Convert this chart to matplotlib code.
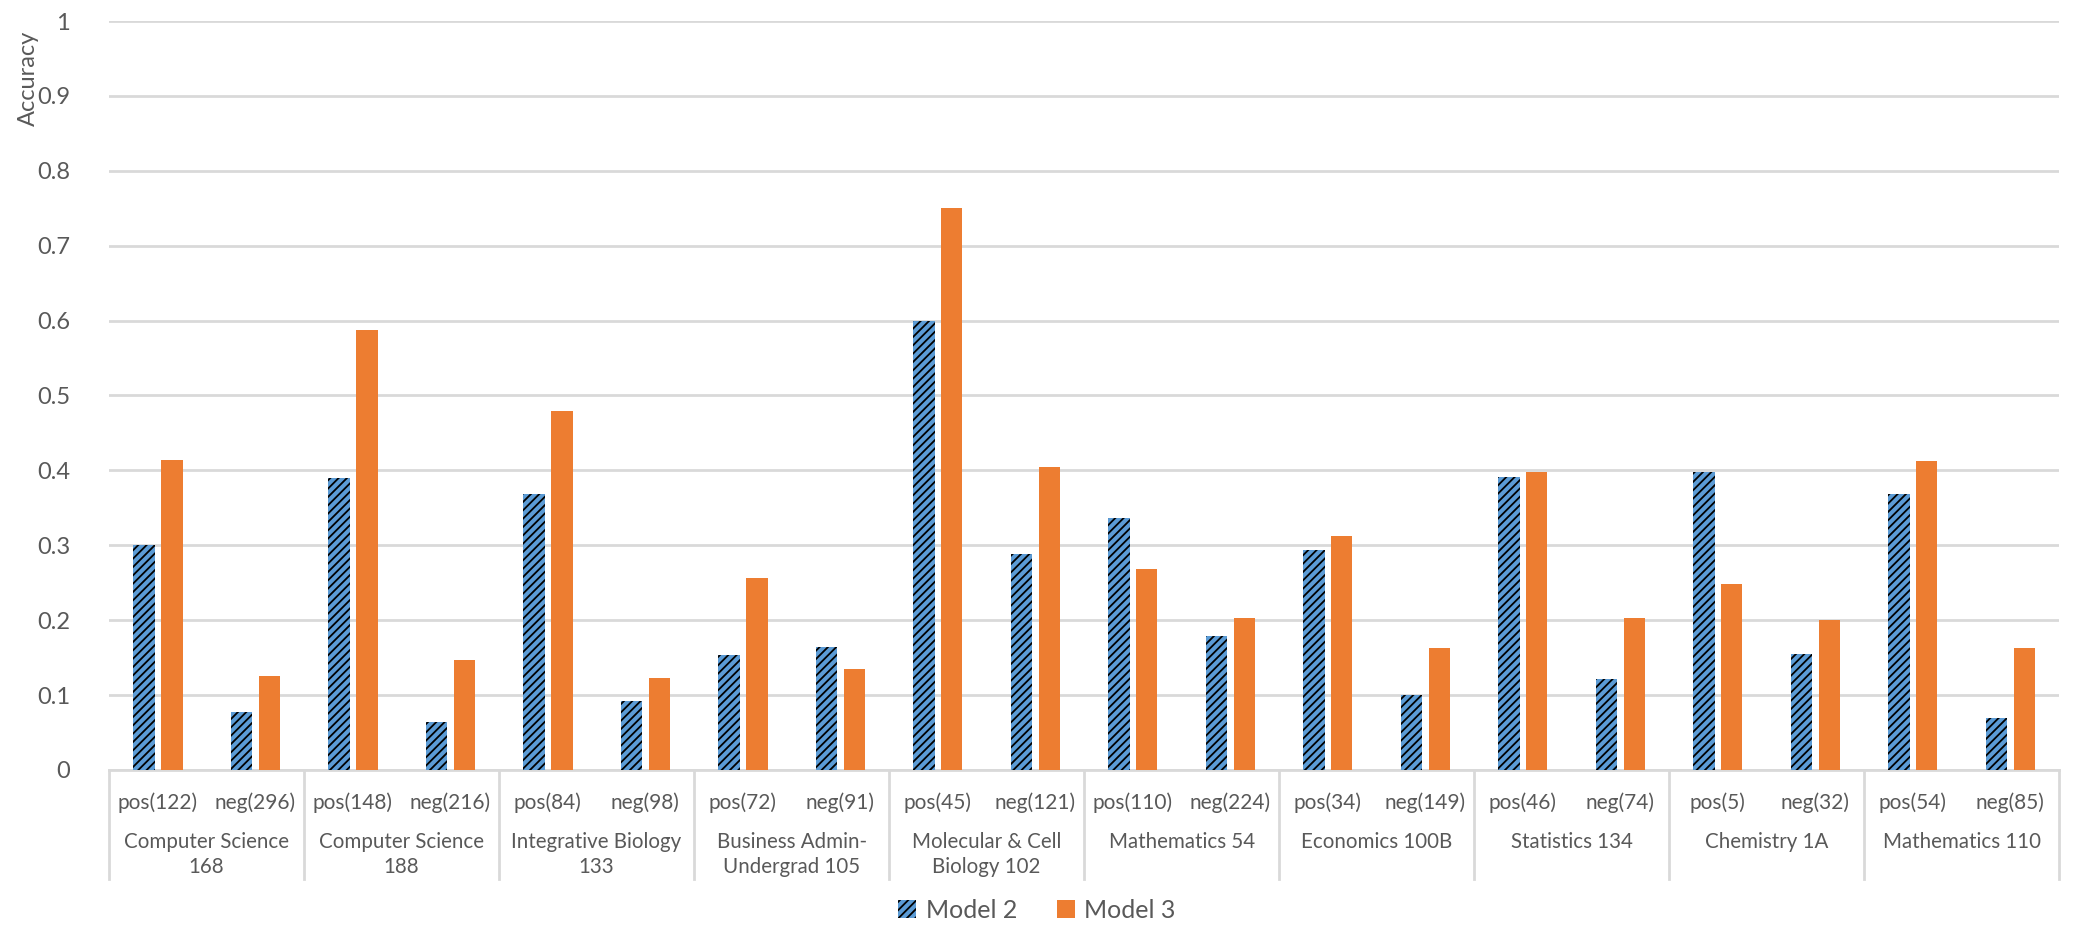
import matplotlib.pyplot as plt
import matplotlib.transforms as mtransforms
import numpy as np

plt.rcParams['font.family'] = ['Lato', 'DejaVu Sans']
plt.rcParams['hatch.linewidth'] = 1.3

# data
courses = ['Computer Science\n168', 'Computer Science\n188', 'Integrative Biology\n133',
           'Business Admin-\nUndergrad 105', 'Molecular & Cell\nBiology 102', 'Mathematics 54',
           'Economics 100B', 'Statistics 134', 'Chemistry 1A', 'Mathematics 110']
sub_labels = ['pos(122)', 'neg(296)', 'pos(148)', 'neg(216)', 'pos(84)', 'neg(98)',
              'pos(72)', 'neg(91)', 'pos(45)', 'neg(121)', 'pos(110)', 'neg(224)',
              'pos(34)', 'neg(149)', 'pos(46)', 'neg(74)', 'pos(5)', 'neg(32)',
              'pos(54)', 'neg(85)']
model2 = [0.301, 0.077, 0.390, 0.064, 0.369, 0.092, 0.153, 0.164, 0.600, 0.289,
          0.336, 0.179, 0.294, 0.100, 0.391, 0.121, 0.398, 0.155, 0.368, 0.069]
model3 = [0.414, 0.125, 0.588, 0.147, 0.479, 0.123, 0.256, 0.135, 0.750, 0.405,
          0.268, 0.203, 0.313, 0.163, 0.398, 0.203, 0.248, 0.200, 0.413, 0.163]

blue = '#5B9BD5'
orange = '#ED7D31'
grey = '#595959'
line = '#D9D9D9'

fig = plt.figure(figsize=(20.74, 9.42), dpi=100)
ax = fig.add_axes([0.0526, 0.1826, 0.9402, 0.7951])

x = np.arange(len(sub_labels))
w = 0.22
ax.bar(x - 0.143, model2, w, color=blue, edgecolor='black', linewidth=0,
       hatch='////', label='Model 2', zorder=3)
ax.bar(x + 0.143, model3, w, color=orange, linewidth=0, label='Model 3', zorder=3)

ax.set_xlim(-0.5, len(sub_labels) - 0.5)
ax.set_ylim(0, 1)
ax.set_yticks(np.arange(0, 1.01, 0.1))
ax.set_yticklabels(['0'] + [f'{v:.1f}' for v in np.arange(0.1, 0.95, 0.1)] + ['1'])
ax.yaxis.grid(True, color=line, linewidth=2, zorder=0)
ax.tick_params(axis='y', length=0, pad=28, labelsize=17, labelcolor=grey)

ax.set_xticks(x)
ax.set_xticklabels(sub_labels)
ax.tick_params(axis='x', length=0, pad=16, labelsize=15, labelcolor=grey)

for s in ['top', 'right', 'left']:
    ax.spines[s].set_visible(False)
ax.spines['bottom'].set_color(line)
ax.spines['bottom'].set_linewidth(2)

# group separators and course labels
trans = mtransforms.blended_transform_factory(ax.transData, ax.transAxes)
for i in range(len(courses) + 1):
    ax.plot([2 * i - 0.5, 2 * i - 0.5], [0, -0.145], color=line, linewidth=2,
            transform=trans, clip_on=False)
for i, c in enumerate(courses):
    ax.text(2 * i + 0.5, -0.083, c, transform=trans, ha='center', va='top',
            fontsize=14.8, color=grey, linespacing=1.3)

fig.text(28 / 2074, 1 - 78 / 942, 'Accuracy', rotation=90, ha='center', va='center',
         fontsize=17, color=grey)

leg = fig.legend(loc='center', bbox_to_anchor=(0.5, 1 - 910 / 942), ncol=2,
                 frameon=False, fontsize=18, handlelength=0.7, handleheight=0.7,
                 handletextpad=0.4, columnspacing=1.6)
for t in leg.get_texts():
    t.set_color(grey)

fig.savefig('out.png', dpi=100)
